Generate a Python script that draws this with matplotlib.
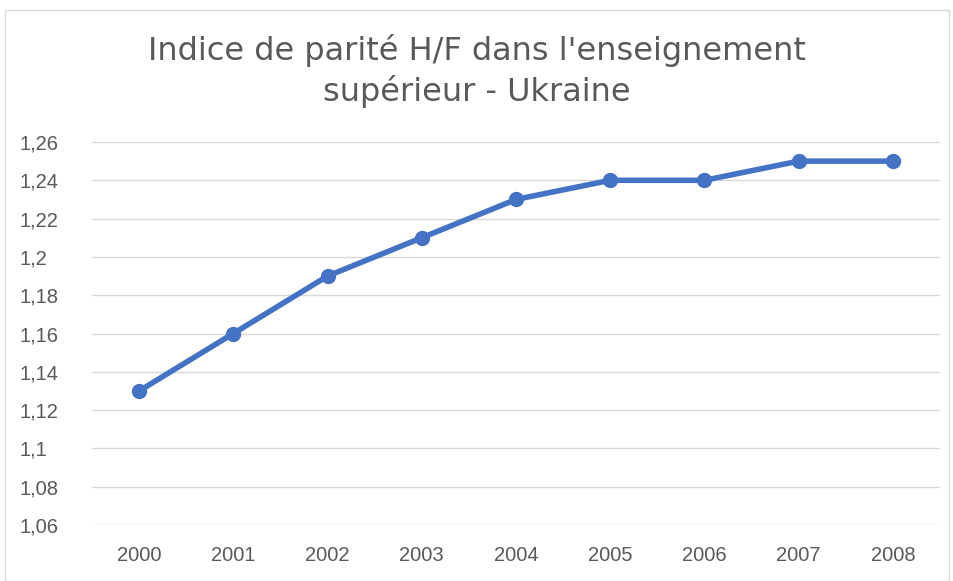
import matplotlib
matplotlib.use("Agg")
import matplotlib.pyplot as plt
from matplotlib.patches import Rectangle
from matplotlib.ticker import FuncFormatter

# data
years = ["2000", "2001", "2002", "2003", "2004", "2005", "2006", "2007", "2008"]
indice = [1.13, 1.16, 1.19, 1.21, 1.23, 1.24, 1.24, 1.25, 1.25]
y_ticks = [1.06, 1.08, 1.1, 1.12, 1.14, 1.16, 1.18, 1.2, 1.22, 1.24, 1.26]

fig = plt.figure(figsize=(9.54, 5.81), dpi=100)
fig.patches.append(Rectangle((5 / 954, 0), 944 / 954, 1 - 10 / 581, transform=fig.transFigure,
                             fill=False, edgecolor="#d9d9d9", linewidth=1))

ax = fig.add_axes([92 / 954, 1 - 525 / 581, 848 / 954, 383 / 581])
x = list(range(len(years)))
ax.plot(x, indice, color="#4472C4", linewidth=4, marker="o", markersize=10, zorder=3)

ax.set_xlim(-0.5, len(years) - 0.5)
ax.set_ylim(1.06, 1.26)
ax.set_xticks(x)
ax.set_xticklabels(years)
ax.set_yticks(y_ticks)
ax.yaxis.set_major_formatter(FuncFormatter(lambda v, p: ("%g" % round(v, 2)).replace(".", ",")))
ax.grid(axis="y", color="#d9d9d9", linewidth=1)
ax.set_axisbelow(True)
for s in ax.spines.values():
    s.set_visible(False)
ax.tick_params(length=0, labelsize=14.5, labelcolor="#595959")
ax.tick_params(axis="x", pad=15)
ax.tick_params(axis="y", pad=52)
for lab in ax.get_xticklabels() + ax.get_yticklabels():
    lab.set_fontfamily("Liberation Sans")
for lab in ax.get_yticklabels():
    lab.set_horizontalalignment("left")

fig.text(0.5, 1 - 71 / 581, "Indice de parité H/F dans l'enseignement\nsupérieur - Ukraine",
         ha="center", va="center", fontsize=23, color="#595959", linespacing=1.3,
         fontfamily="DejaVu Sans")

fig.savefig("out.png", dpi=100)
